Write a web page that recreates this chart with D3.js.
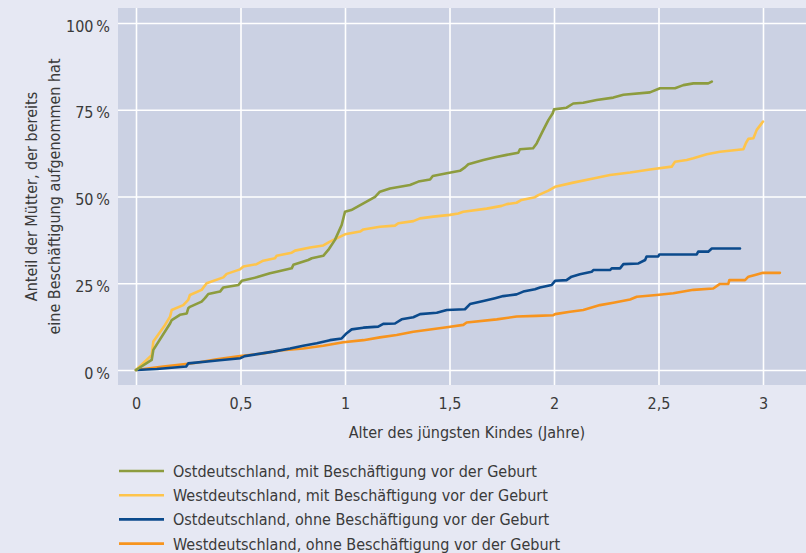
<!DOCTYPE html>
<html>
<head>
<meta charset="utf-8">
<script src="https://cdn.jsdelivr.net/npm/d3@7"></script>
<style>
  html, body { margin: 0; padding: 0; background: #e6e8f3; }
  svg { display: block; }
  text { font-family: "Liberation Sans Narrow", "DejaVu Sans Condensed", "Liberation Sans", sans-serif; fill: #3a3a3a; }
</style>
</head>
<body>
<svg id="chart" width="806" height="553"></svg>
<script>
// ---- data (x: Alter des jüngsten Kindes in Jahren, y: Anteil in %) ----
const ostMit = [[0,0],[0.075,2.9],[0.083,5.8],[0.163,13.4],[0.171,14.4],[0.21,15.9],[0.243,16.3],[0.25,17.8],[0.258,18.2],[0.314,19.7],[0.33,20.7],[0.346,21.9],[0.402,22.6],[0.418,23.8],[0.49,24.5],[0.506,25.7],[0.577,26.7],[0.641,27.9],[0.673,28.3],[0.745,29.3],[0.753,30.3],[0.824,31.7],[0.841,32.2],[0.896,32.9],[0.92,34.6],[0.952,37.5],[0.984,41.8],[1.0,45.6],[1.03,46.1],[1.088,48.0],[1.144,49.9],[1.167,51.4],[1.215,52.3],[1.311,53.3],[1.351,54.3],[1.407,54.9],[1.42,55.9],[1.487,56.7],[1.55,57.4],[1.574,58.4],[1.59,59.3],[1.662,60.5],[1.718,61.3],[1.774,62.0],[1.829,62.6],[1.837,63.6],[1.9,63.9],[1.917,65.3],[1.949,69.2],[1.973,72.0],[1.994,74.0],[2.0,75.1],[2.06,75.6],[2.092,76.8],[2.14,77.0],[2.204,77.8],[2.284,78.5],[2.332,79.3],[2.459,80.0],[2.507,81.2],[2.579,81.2],[2.619,82.1],[2.667,82.6],[2.738,82.6],[2.755,83.1]];
const westMit = [[0,0],[0.075,4.3],[0.083,8.2],[0.139,13.0],[0.163,15.4],[0.171,17.3],[0.226,18.7],[0.25,20.2],[0.258,21.6],[0.314,23.1],[0.338,25.0],[0.418,26.7],[0.434,27.7],[0.498,29.0],[0.514,29.8],[0.577,30.5],[0.609,31.5],[0.665,32.2],[0.673,32.9],[0.745,33.8],[0.761,34.4],[0.833,35.3],[0.896,35.9],[0.928,37.0],[1.0,39.1],[1.072,39.9],[1.088,40.5],[1.167,41.3],[1.239,41.6],[1.255,42.3],[1.327,42.9],[1.359,43.7],[1.423,44.2],[1.502,44.7],[1.542,45.1],[1.566,45.6],[1.678,46.5],[1.75,47.3],[1.774,47.8],[1.821,48.2],[1.845,49.0],[1.909,49.8],[1.925,50.4],[1.973,51.7],[2.005,52.8],[2.092,54.0],[2.188,55.2],[2.268,56.2],[2.364,56.9],[2.459,57.8],[2.563,58.6],[2.579,60.0],[2.635,60.5],[2.667,61.0],[2.731,62.2],[2.794,62.9],[2.906,63.6],[2.919,65.5],[2.93,66.6],[2.954,66.8],[2.97,69.2],[3.0,71.6]];
const ostOhne = [[0,0],[0.1,0.3],[0.24,1.0],[0.25,1.9],[0.4,2.8],[0.5,3.4],[0.52,4.0],[0.657,5.3],[0.737,6.2],[0.8,7.0],[0.865,7.7],[0.928,8.6],[0.984,9.1],[1.008,10.6],[1.032,11.7],[1.088,12.2],[1.159,12.5],[1.183,13.3],[1.239,13.4],[1.271,14.6],[1.327,15.2],[1.359,16.1],[1.439,16.5],[1.487,17.3],[1.574,17.5],[1.598,19.0],[1.662,19.9],[1.718,20.7],[1.757,21.3],[1.821,21.8],[1.853,22.6],[1.909,23.3],[1.933,23.8],[1.989,24.5],[2.005,25.7],[2.06,25.9],[2.084,26.9],[2.124,27.6],[2.18,28.3],[2.188,28.8],[2.268,28.8],[2.276,29.3],[2.316,29.3],[2.332,30.5],[2.404,30.7],[2.436,31.7],[2.443,32.7],[2.499,32.7],[2.504,33.3],[2.683,33.3],[2.69,34.1],[2.738,34.1],[2.755,35.0],[2.89,35.0]];
const westOhne = [[0,0],[0.131,1.0],[0.29,2.1],[0.386,3.1],[0.498,4.0],[0.609,4.8],[0.689,5.6],[0.8,6.2],[0.896,7.0],[0.992,8.0],[1.088,8.6],[1.167,9.4],[1.247,10.1],[1.327,11.0],[1.487,12.3],[1.566,13.0],[1.582,13.7],[1.726,14.6],[1.821,15.4],[1.917,15.6],[1.997,15.8],[2.005,16.1],[2.077,16.8],[2.14,17.3],[2.22,18.7],[2.284,19.4],[2.364,20.3],[2.396,21.1],[2.491,21.6],[2.571,22.1],[2.667,23.1],[2.762,23.5],[2.794,24.8],[2.834,24.8],[2.839,25.9],[2.914,25.9],[2.93,26.9],[2.962,27.4],[3.0,28.0],[3.081,28.0]];

const seriesNames = [
  "Ostdeutschland, mit Beschäftigung vor der Geburt",
  "Westdeutschland, mit Beschäftigung vor der Geburt",
  "Ostdeutschland, ohne Beschäftigung vor der Geburt",
  "Westdeutschland, ohne Beschäftigung vor der Geburt"
];
const seriesColors = ["#8d9c3e", "#fec44b", "#0b4a8c", "#f7941e"];
const xTicks = [0, 0.5, 1, 1.5, 2, 2.5, 3];
const xTickLabels = ["0", "0,5", "1", "1,5", "2", "2,5", "3"];
const yTicks = [0, 25, 50, 75, 100];
const yTickLabels = ["0\u202F%", "25\u202F%", "50\u202F%", "75\u202F%", "100\u202F%"];
const xTitle = "Alter des jüngsten Kindes (Jahre)";
const yTitleLines = ["Anteil der Mütter, der bereits", "eine Beschäftigung aufgenommen hat"];

// ---- layout ----
const svg = d3.select("#chart");
const plot = { left: 118, right: 806, top: 8, bottom: 385 };
const x = d3.scaleLinear().domain([0, 3]).range([136, 763]);
const y = d3.scaleLinear().domain([0, 100]).range([370, 23]);
const fontSize = 16;

svg.append("rect")
  .attr("x", plot.left).attr("y", plot.top)
  .attr("width", plot.right - plot.left).attr("height", plot.bottom - plot.top)
  .attr("fill", "#cbd1e3");

// x axis with vertical gridlines
const xAxis = d3.axisBottom(x)
  .tickValues(xTicks)
  .tickFormat((d, i) => xTickLabels[i])
  .tickSizeInner(-(plot.bottom - plot.top))
  .tickSizeOuter(0)
  .tickPadding(13);
const gx = svg.append("g").attr("transform", `translate(0,${plot.bottom})`).call(xAxis);
gx.select(".domain").remove();
gx.selectAll(".tick line").attr("stroke", "#ffffff").attr("stroke-width", 1.6);
gx.selectAll(".tick text").attr("font-size", fontSize).attr("fill", "#3a3a3a");

// y axis with horizontal gridlines
const yAxis = d3.axisLeft(y)
  .tickValues(yTicks)
  .tickFormat((d, i) => yTickLabels[i])
  .tickSizeInner(-(plot.right - plot.left))
  .tickSizeOuter(0)
  .tickPadding(8);
const gy = svg.append("g").attr("transform", `translate(${plot.left},0)`).call(yAxis);
gy.select(".domain").remove();
gy.selectAll(".tick line").attr("stroke", "#ffffff").attr("stroke-width", 1.6);
gy.selectAll(".tick text").attr("font-size", fontSize).attr("fill", "#3a3a3a").attr("dy", "0.5em");
svg.selectAll("g").attr("font-family", null);

// lines
const line = d3.line().x(d => x(d[0])).y(d => y(d[1])).curve(d3.curveLinear);
const allSeries = [ostMit, westMit, ostOhne, westOhne];
const drawOrder = [3, 2, 1, 0];
drawOrder.forEach(i => {
  svg.append("path")
    .datum(allSeries[i])
    .attr("d", line)
    .attr("fill", "none")
    .attr("stroke", seriesColors[i])
    .attr("stroke-width", 2.6)
    .attr("stroke-linejoin", "round")
    .attr("stroke-linecap", "round");
});

// axis titles
svg.append("text")
  .attr("x", 467).attr("y", 438)
  .attr("text-anchor", "middle").attr("font-size", fontSize)
  .text(xTitle);

const yt = svg.append("g").attr("transform", `translate(0,${(plot.top + plot.bottom) / 2})`);
yTitleLines.forEach((t, i) => {
  yt.append("text")
    .attr("transform", `translate(${37 + i * 23},0) rotate(-90)`)
    .attr("text-anchor", "middle").attr("font-size", fontSize)
    .text(t);
});

// legend
const legend = svg.append("g");
seriesNames.forEach((name, i) => {
  const ly = 471 + i * 24.2;
  legend.append("line")
    .attr("x1", 119).attr("x2", 164).attr("y1", ly).attr("y2", ly)
    .attr("stroke", seriesColors[i]).attr("stroke-width", 2.6);
  legend.append("text")
    .attr("x", 173).attr("y", ly + 6)
    .attr("font-size", fontSize)
    .text(name);
});
</script>
</body>
</html>
